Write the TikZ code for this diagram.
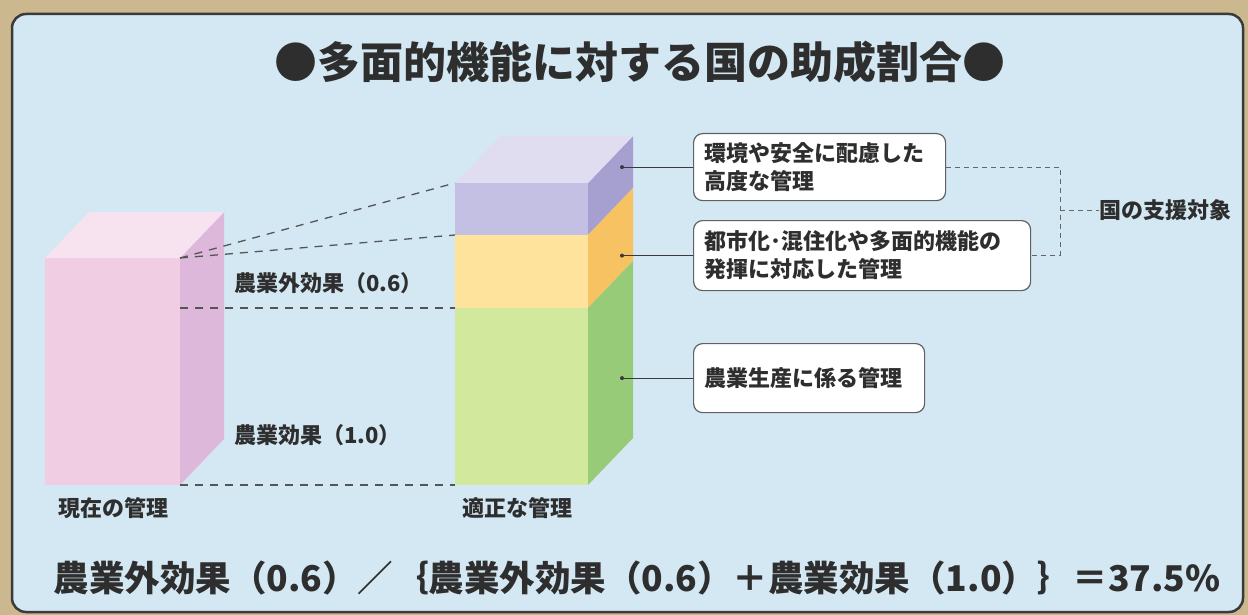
\documentclass[tikz,border=0pt]{standalone}
\usepackage{fontspec}
\usepackage{xcolor}
\usepackage{tikz}
\usetikzlibrary{calc, positioning}
\newfontfamily\jp{Noto Sans CJK JP}
\definecolor{tanbg}{HTML}{CBB88F}
\definecolor{panelblue}{HTML}{D3E8F3}
\definecolor{panelline}{HTML}{3A3A3A}
\definecolor{txtgray}{HTML}{2E2E2E}
\definecolor{dashgray}{HTML}{555555}
\definecolor{pinkfront}{HTML}{F1CDE3}
\definecolor{pinkside}{HTML}{DDB8DA}
\definecolor{pinktop}{HTML}{F7E3EF}
\definecolor{purpletop}{HTML}{E0DDF0}
\definecolor{purplefront}{HTML}{C4C0E3}
\definecolor{purpleside}{HTML}{A6A0D0}
\definecolor{yellowfront}{HTML}{FDE39C}
\definecolor{yellowside}{HTML}{F6C262}
\definecolor{greenfront}{HTML}{D2E89D}
\definecolor{greenside}{HTML}{97CB78}
\tikzset{guide/.style={draw=dashgray, line width=1.3pt, dash pattern=on 8pt off 7pt},
bracket/.style={draw=dashgray!90, line width=1pt, dash pattern=on 5pt off 4pt},
callout/.style={draw=panelline!80, line width=1.2pt, fill=white, rounded corners=9pt,
  align=left, anchor=north west, inner xsep=11pt, text=txtgray,
  font=\jp\bfseries\fontsize{22}{28}\selectfont}}

\begin{document}
\begin{tikzpicture}[x=1pt,y=-1pt,
                    lbl/.style={text=txtgray,inner sep=0pt,font=\jp\bfseries\fontsize{22}{26}\selectfont}]

%BACKGROUND AND PANEL
  \useasboundingbox (0,0) rectangle (1248,615);
  \fill[tanbg] (0,0) rectangle (1248,615);
  \filldraw[fill=panelblue, draw=panelline, line width=2.5pt, rounded corners=14pt] (12,14) rectangle (1243,612);

  \node[text=txtgray, font=\jp\bfseries\fontsize{43}{46}\selectfont] (Title) at (640,62) {●多面的機能に対する国の助成割合●};

%DRAWING CURRENT BLOCK
  \coordinate (NowFrontTL) at (45,258);
  \coordinate (NowFrontTR) at (180,258);
  \coordinate (NowFrontBL) at (45,485);
  \coordinate (NowFrontBR) at (180,485);
  \coordinate (NowSplit) at (180,308);
  \coordinate (NowBackTL) at ($(NowFrontTL)+(44,-46)$);
  \coordinate (NowBackTR) at ($(NowFrontTR)+(44,-46)$);
  \coordinate (NowBackBR) at ($(NowFrontBR)+(44,-46)$);

  \fill[pinkfront] (NowFrontTL) rectangle (NowFrontBR);
  \fill[pinkside] (NowFrontTR) -- (NowBackTR) -- (NowBackBR) -- (NowFrontBR) -- cycle;
  \fill[pinktop] (NowFrontTL) -- (NowBackTL) -- (NowBackTR) -- (NowFrontTR) -- cycle;

%DRAWING PROPER BLOCK
  \coordinate (ProperFrontTL) at (455,183);
  \coordinate (ProperFrontTR) at (588,183);
  \coordinate (ProperPY) at (455,235);
  \coordinate (ProperPYRight) at (588,235);
  \coordinate (ProperYG) at (455,308);
  \coordinate (ProperYGRight) at (588,308);
  \coordinate (ProperFrontBL) at (455,485);
  \coordinate (ProperFrontBR) at (588,485);
  \coordinate (ProperBackTL) at ($(ProperFrontTL)+(45,-47)$);
  \coordinate (ProperBackTR) at ($(ProperFrontTR)+(45,-47)$);
  \coordinate (ProperBackPY) at ($(ProperPYRight)+(45,-47)$);
  \coordinate (ProperBackYG) at ($(ProperYGRight)+(45,-47)$);
  \coordinate (ProperBackBR) at ($(ProperFrontBR)+(45,-47)$);

  \fill[purplefront] (ProperFrontTL) rectangle (ProperPYRight);
  \fill[yellowfront] (ProperPY) rectangle (ProperYGRight);
  \fill[greenfront] (ProperYG) rectangle (ProperFrontBR);
  \fill[purpleside] (ProperFrontTR) -- (ProperBackTR) -- (ProperBackPY) -- (ProperPYRight) -- cycle;
  \fill[yellowside] (ProperPYRight) -- (ProperBackPY) -- (ProperBackYG) -- (ProperYGRight) -- cycle;
  \fill[greenside] (ProperYGRight) -- (ProperBackYG) -- (ProperBackBR) -- (ProperFrontBR) -- cycle;
  \fill[purpletop] (ProperFrontTL) -- (ProperBackTL) -- (ProperBackTR) -- (ProperFrontTR) -- cycle;

%DASHED GUIDES
  \draw[guide] (NowFrontTR) -- (ProperFrontTL);
  \draw[guide] (NowFrontTR) -- (ProperPY);
  \draw[guide] (NowSplit) -- (ProperYG);
  \draw[guide] (NowFrontBR) -- (ProperFrontBL);

  \node[lbl, anchor=west] (ExtraLabel) at (234,283) {農業外効果（0.6）};
  \node[lbl, anchor=west] (FarmLabel) at (234,435) {農業効果（1.0）};
  \node[lbl] (NowLabel) at (113,508) {現在の管理};
  \node[lbl] (ProperLabel) at (517,508) {適正な管理};

%CALLOUTS
  \node[callout, minimum width=252pt, minimum height=67pt, text width=230pt] (EnvBox) at (693,133)
    {環境や安全に配慮した\\高度な管理};
  \node[callout, minimum width=337pt, minimum height=70pt, text width=315pt] (UrbanBox) at (693,220)
    {都市化･混住化や多面的機能の\\発揮に対応した管理};
  \node[callout, minimum width=231pt, minimum height=69pt, text width=209pt] (FarmBox) at (693,343)
    {農業生産に係る管理};

  \coordinate (DotColumn) at (622,0);
  \coordinate (EnvDot) at (EnvBox.west -| DotColumn);
  \coordinate (UrbanDot) at (UrbanBox.west -| DotColumn);
  \coordinate (FarmDot) at (FarmBox.west -| DotColumn);
  \draw[panelline, line width=1pt] (EnvDot) -- (EnvBox.west);
  \draw[panelline, line width=1pt] (UrbanDot) -- (UrbanBox.west);
  \draw[panelline, line width=1pt] (FarmDot) -- (FarmBox.west);
  \fill[panelline] (EnvDot) circle (2pt);
  \fill[panelline] (UrbanDot) circle (2pt);
  \fill[panelline] (FarmDot) circle (2pt);

%SUPPORT BRACKET
  \node[lbl, anchor=west] (SupportLabel) at (1099,210) {国の支援対象};
  \coordinate (BracketColumn) at (1060,0);
  \coordinate (BracketTop) at (EnvBox.east -| BracketColumn);
  \coordinate (BracketBot) at (UrbanBox.east -| BracketColumn);
  \coordinate (BracketMid) at (SupportLabel.west -| BracketColumn);
  \draw[bracket] (EnvBox.east) -- (BracketTop) -- (BracketBot) -- (UrbanBox.east);
  \draw[bracket] (BracketMid) -- (SupportLabel.west);

%FORMULA
  \node[text=txtgray, font=\jp\bfseries\fontsize{35.5}{40}\selectfont] (Formula) at (637,578)
    {農業外効果（0.6）／｛農業外効果（0.6）＋農業効果（1.0）｝＝37.5\%};

\end{tikzpicture}
\end{document}
